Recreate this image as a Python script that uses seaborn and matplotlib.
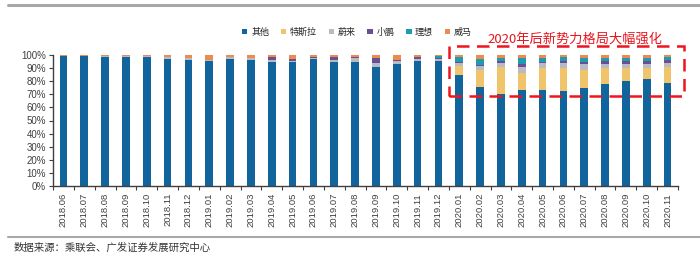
import numpy as np
import pandas as pd
import matplotlib
matplotlib.use("Agg")
import matplotlib.pyplot as plt
import seaborn as sns
from matplotlib.patches import Patch, Rectangle
from matplotlib.lines import Line2D
from matplotlib.ticker import FuncFormatter

months = ["2018.06", "2018.07", "2018.08", "2018.09", "2018.10", "2018.11", "2018.12",
          "2019.01", "2019.02", "2019.03", "2019.04", "2019.05", "2019.06", "2019.07",
          "2019.08", "2019.09", "2019.10", "2019.11", "2019.12",
          "2020.01", "2020.02", "2020.03", "2020.04", "2020.05", "2020.06", "2020.07",
          "2020.08", "2020.09", "2020.10", "2020.11"]

other = [99.6, 99.5, 98.8, 98.3, 98.8, 97.3, 96.0,
         95.5, 97.3, 96.5, 94.8, 94.3, 97.0, 94.3,
         94.8, 91.0, 93.0, 95.8, 95.3,
         84.6, 75.3, 70.2, 73.2, 73.4, 72.4, 74.5,
         77.6, 80.1, 82.0, 78.8]
tesla = [0, 0, 0, 0, 0, 0, 0,
         0, 0, 0, 0, 0, 0, 0,
         0, 0, 0, 0, 0,
         7.0, 13.2, 21.0, 13.0, 16.3, 18.0, 14.0,
         12.7, 10.2, 8.2, 12.2]
nio = [0, 0, 0.8, 1.2, 0.8, 1.3, 1.5,
       1.0, 1.0, 1.0, 1.5, 1.0, 1.0, 2.0,
       3.0, 3.0, 2.8, 1.5, 2.0,
       2.5, 3.3, 3.0, 5.0, 4.0, 3.6, 4.3,
       3.0, 3.0, 3.0, 3.0]
xpeng = [0, 0, 0, 0, 0, 0, 0,
         0, 0.5, 0.5, 2.0, 2.0, 0.5, 2.0,
         0.3, 3.5, 0.3, 1.0, 0.5,
         0.5, 0.5, 1.0, 1.8, 1.0, 1.5, 2.0,
         2.0, 2.0, 2.0, 2.0]
lixiang = [0, 0, 0, 0, 0, 0, 0,
           0, 0, 0, 0, 0, 0, 0,
           0, 0, 0, 0, 1.2,
           3.5, 4.5, 2.8, 4.6, 3.3, 3.0, 2.7,
           2.7, 2.7, 2.8, 2.5]
weltmeister = [0.4, 0.5, 0.4, 0.5, 0.4, 1.4, 2.5,
               3.5, 1.2, 2.0, 1.7, 2.7, 1.5, 1.7,
               1.9, 2.5, 3.9, 1.7, 1.0,
               1.9, 3.2, 2.0, 2.4, 2.0, 1.5, 2.5,
               2.0, 2.0, 2.0, 1.5]

series_names = ["其他", "特斯拉", "蔚来", "小鹏", "理想", "威马"]
series_vals = [other, tesla, nio, xpeng, lixiang, weltmeister]
colors = ["#11659C", "#F0C46B", "#B8BBC2", "#6B4F94", "#1E9BAF", "#EC8A50"]

df = pd.DataFrame({n: v for n, v in zip(series_names, series_vals)}, index=months)
share = df.div(df.sum(axis=1), axis=0)
cum = share.cumsum(axis=1)

sns.set_theme(style="white")
plt.rcParams["font.family"] = ["Liberation Sans", "Noto Sans CJK SC", "DejaVu Sans"]

fig = plt.figure(figsize=(7, 2.58), dpi=100)
L, R = 53 / 700, 678 / 700
B, T = 1 - 186 / 258, 1 - 55 / 258
ax = fig.add_axes([L, B, R - L, T - B])

for name, col in reversed(list(zip(series_names, colors))):
    sns.barplot(x=months, y=cum[name].values, color=col, saturation=1,
                width=0.37, ax=ax, linewidth=0, order=months)

ax.set_ylim(0, 1)
ax.set_xlim(-0.5, len(months) - 0.5)
ax.set_yticks(np.arange(0, 1.01, 0.1))
ax.yaxis.set_major_formatter(FuncFormatter(lambda v, p: f"{v*100:.0f}%"))
ax.set_ylabel("")
ax.set_xlabel("")
for s in ["top", "right"]:
    ax.spines[s].set_visible(False)
for s in ["bottom", "left"]:
    ax.spines[s].set_color("#404040")
    ax.spines[s].set_linewidth(1.0)

ax.set_xticks(range(len(months)))
ax.set_xticklabels(months, rotation=90, fontsize=6.8, color="#404040")
ax.set_xticks(np.arange(-0.5, len(months), 1), minor=True)
ax.tick_params(axis="x", which="major", length=0, pad=5)
ax.tick_params(axis="x", which="minor", length=3, width=0.8, color="#404040", direction="out", bottom=True)
ax.tick_params(axis="y", which="major", length=3, width=0.8, color="#404040", direction="out",
               left=True, labelsize=7, labelcolor="#404040", pad=2)

# legend
handles = [Patch(facecolor=c, edgecolor="none") for c in colors]
fig.legend(handles, series_names, loc="center", bbox_to_anchor=(0.51, 1 - 32 / 258),
           ncol=6, frameon=False, fontsize=6.5, handlelength=0.6, handleheight=0.6,
           handletextpad=0.4, columnspacing=1.3,
           prop={"family": ["Noto Sans CJK SC"], "size": 6.5})

# annotation box
rect = Rectangle((18.5, 0.69), 11.3, 0.38, fill=False, edgecolor="#F0141E",
                 linewidth=1.8, linestyle=(0, (5, 3)), clip_on=False)
ax.add_patch(rect)
fig.text(575 / 700, 1 - 39 / 258, "2020年后新势力格局大幅强化", color="#E8141E",
         fontsize=9.5, ha="center", va="center", family=["Noto Sans CJK SC"])

# decorative lines and source
fig.add_artist(Line2D([8 / 700, 1.0], [1 - 5 / 258] * 2, color="#A8A8A8", lw=2.2))
fig.add_artist(Line2D([8 / 700, 1.0], [1 - 237 / 258] * 2, color="#A8A8A8", lw=1.5))
fig.text(14 / 700, 1 - 248 / 258, "数据来源：乘联会、广发证券发展研究中心", color="#333333",
         fontsize=7.5, ha="left", va="center", family=["Noto Sans CJK SC"])

fig.savefig("out.png", dpi=100)
